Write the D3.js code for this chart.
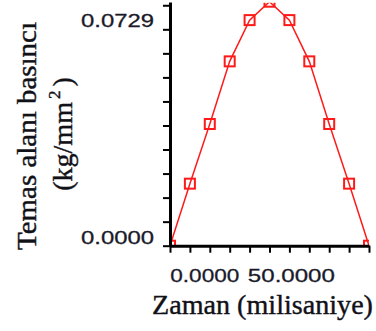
<!DOCTYPE html>
<html>
<head>
<meta charset="utf-8">
<script src="https://cdn.jsdelivr.net/npm/d3@7/dist/d3.min.js"></script>
<style>
  html, body { margin: 0; padding: 0; background: #fff; }
  svg { display: block; }
</style>
</head>
<body>
<svg id="chart" width="376" height="331"></svg>
<script>
// ---- data ----
const timesMs = [0, 10, 20, 30, 40, 50, 60, 70, 80, 90, 100];
const pressure = [0, 0.0209, 0.0410, 0.0621, 0.0760, 0.0822, 0.0760, 0.0621, 0.0410, 0.0209, 0];
const yTickValues = [0, 0.0081, 0.0162, 0.0243, 0.0324, 0.0405, 0.0486, 0.0567, 0.0648, 0.0729, 0.081];
const yTickLabels = [{ v: 0, text: "0.0000" }, { v: 0.0729, text: "0.0729" }];
const xTickValues = [0, 10, 20, 30, 40, 50, 60, 70, 80, 90, 100];
const xTickLabels = [{ v: 17.5, text: "0.0000" }, { v: 61, text: "50.0000" }];
const yTitleLines = ["Temas alanı basıncı", "(kg/mm"];
const xTitle = "Zaman (milisaniye)";

// ---- layout ----
const svg = d3.select("#chart");
const pLeft = 170, pRight = 369, pTop = 2, pBottom = 245.7;

const x = d3.scaleLinear().domain([0, 100]).range([pLeft, pRight]);
const y = d3.scaleLinear().domain([0, 0.0821]).range([pBottom, pTop]);

// clip for plot area
svg.append("defs").append("clipPath").attr("id", "plotclip")
  .append("rect").attr("x", pLeft).attr("y", 2.7)
  .attr("width", pRight - pLeft).attr("height", pBottom - 2.7);

// series
const plot = svg.append("g").attr("clip-path", "url(#plotclip)");
const pts = timesMs.map((t, i) => [t, pressure[i]]);
plot.append("path")
  .datum(pts)
  .attr("fill", "none")
  .attr("stroke", "#ff1a1a")
  .attr("stroke-width", 1.5)
  .attr("d", d3.line().x(d => x(d[0])).y(d => y(d[1])));

const ms = 10;
plot.selectAll("rect.mk").data(pts).join("rect")
  .attr("class", "mk")
  .attr("x", d => x(d[0]) - ms / 2)
  .attr("y", d => y(d[1]) - ms / 2)
  .attr("width", ms).attr("height", ms)
  .attr("fill", "none")
  .attr("stroke", "#ff1a1a")
  .attr("stroke-width", 2);

// axes
const yAxis = d3.axisLeft(y).tickValues(yTickValues).tickSize(7).tickSizeOuter(0).tickFormat("");
const gy = svg.append("g").attr("transform", `translate(${pLeft},0)`).call(yAxis);
gy.select(".domain").attr("stroke", "#000").attr("stroke-width", 3);
gy.selectAll(".tick line").attr("stroke", "#000").attr("stroke-width", 2);

const xAxis = d3.axisBottom(x).tickValues(xTickValues).tickSize(7).tickSizeOuter(0).tickFormat("");
const gx = svg.append("g").attr("transform", `translate(0,${pBottom})`).call(xAxis);
gx.select(".domain").attr("stroke", "#000").attr("stroke-width", 3);
gx.selectAll(".tick line").attr("stroke", "#000").attr("stroke-width", 2);

// tick labels
const numFont = "'Liberation Sans', Arial, sans-serif";
svg.selectAll("text.ylab").data(yTickLabels).join("text")
  .attr("class", "ylab")
  .attr("x", 154)
  .attr("y", d => y(d.v) - 2)
  .attr("text-anchor", "end")
  .attr("font-family", numFont)
  .attr("font-size", 19)
  .attr("fill", "#1a1a2a")
  .attr("stroke", "#1a1a2a")
  .attr("stroke-width", 0.3)
  .attr("textLength", 73)
  .attr("lengthAdjust", "spacingAndGlyphs")
  .text(d => d.text);

svg.selectAll("text.xlab").data(xTickLabels).join("text")
  .attr("class", "xlab")
  .attr("x", d => x(d.v))
  .attr("y", 282)
  .attr("text-anchor", "middle")
  .attr("font-family", numFont)
  .attr("font-size", 19)
  .attr("fill", "#1a1a2a")
  .attr("stroke", "#1a1a2a")
  .attr("stroke-width", 0.3)
  .attr("textLength", (d, i) => i === 0 ? 69 : 87)
  .attr("lengthAdjust", "spacingAndGlyphs")
  .text(d => d.text);

// titles
const serif = "'Liberation Serif', 'Times New Roman', Times, serif";
svg.append("text")
  .attr("transform", "translate(36,136) rotate(-90)")
  .attr("text-anchor", "middle")
  .attr("font-family", serif)
  .attr("font-size", 28)
  .attr("fill", "#111118")
  .attr("stroke", "#111118")
  .attr("stroke-width", 0.4)
  .attr("textLength", 228)
  .attr("lengthAdjust", "spacingAndGlyphs")
  .text(yTitleLines[0]);

const t2 = svg.append("text")
  .attr("transform", "translate(72,134) rotate(-90)")
  .attr("text-anchor", "middle")
  .attr("font-family", serif)
  .attr("font-size", 28)
  .attr("fill", "#111118")
  .attr("stroke", "#111118")
  .attr("stroke-width", 0.4);
t2.append("tspan").text(yTitleLines[1]);
t2.append("tspan").attr("font-size", 17).attr("dy", -12).attr("dx", 3).text("2");
t2.append("tspan").attr("dy", 12).attr("dx", 4).text(")");

svg.append("text")
  .attr("x", 152)
  .attr("y", 314)
  .attr("font-family", serif)
  .attr("font-size", 28)
  .attr("fill", "#111118")
  .attr("stroke", "#111118")
  .attr("stroke-width", 0.4)
  .attr("textLength", 221)
  .attr("lengthAdjust", "spacingAndGlyphs")
  .text(xTitle);
</script>
</body>
</html>
